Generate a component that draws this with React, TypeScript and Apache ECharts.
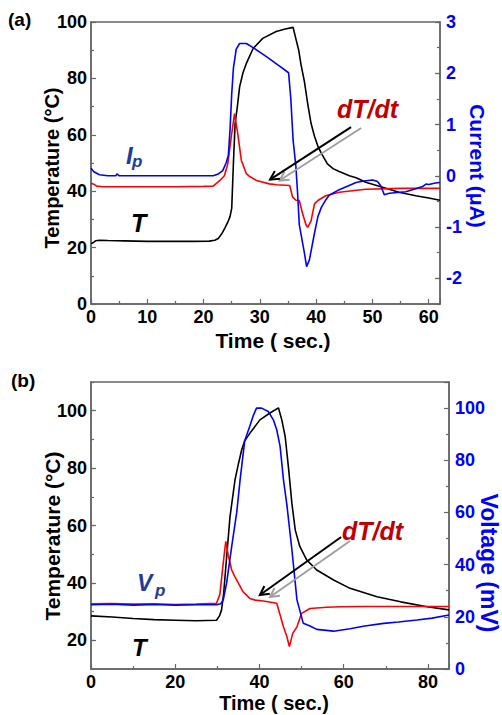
import { useEffect, useRef } from "react";
import * as echarts from "echarts";

const FONT = "'Liberation Sans', Arial, Helvetica, sans-serif";

// ---------- Panel (a) ----------
const aTempTime = [0, 0.4, 0.8, 1.5, 3, 6, 10, 14, 18, 21, 22, 22.6, 23.2, 23.8, 24.3, 24.7, 25.0, 25.3, 25.6, 26.0, 26.4, 27.0, 27.6, 28.8, 30.5, 32.9, 34.5, 35.9, 36.4, 36.9, 37.3, 37.9, 38.5, 39.1, 39.7, 40.3, 40.9, 42.0, 43.0, 44.1, 45.9, 47.1, 48.8, 51.8, 54.7, 57.7, 60.0, 62];
const aTempValues = [21.3, 21.8, 22.4, 22.6, 22.5, 22.4, 22.2, 22.2, 22.2, 22.3, 22.6, 23.2, 24.8, 27, 29, 31, 34, 50, 64, 70, 77, 82, 85.3, 90.6, 94.2, 96.6, 97.5, 98.1, 94, 90, 85, 79, 71, 64, 59.5, 56, 53.5, 49.7, 48, 47, 45.5, 44.8, 43.2, 41.4, 39.6, 38.4, 37.6, 36.8];

const aCurrentTime = [0, 0.5, 1.5, 3, 4.4, 4.6, 5, 8, 12, 16, 20, 21.7, 22.5, 23.4, 24.0, 24.4, 24.7, 25.0, 25.3, 25.8, 26.4, 27.6, 28.8, 31.1, 33.5, 35.1, 35.5, 35.9, 36.4, 36.7, 37.0, 37.9, 38.3, 38.8, 39.7, 40.3, 40.9, 41.7, 42.3, 44.1, 47.1, 48.5, 50.0, 50.9, 51.5, 52.1, 53.0, 55.9, 57.1, 58.9, 59.5, 60.0, 61.2, 62];
const aCurrentValues = [0.15, 0.08, 0.02, 0.0, 0.0, 0.04, 0.0, 0.0, 0.0, 0.0, 0.0, 0.0, 0.03, 0.1, 0.25, 0.4, 0.9, 1.6, 2.1, 2.47, 2.58, 2.58, 2.5, 2.33, 2.14, 2.01, 1.5, 0.7, 0.18, -0.34, -0.95, -1.5, -1.77, -1.64, -1.12, -0.8, -0.62, -0.47, -0.38, -0.27, -0.13, -0.1, -0.08, -0.11, -0.2, -0.37, -0.34, -0.31, -0.27, -0.21, -0.16, -0.17, -0.14, -0.13];

const aRateTime = [0, 0.5, 1, 2, 5, 10, 15, 20, 21.7, 22.9, 23.7, 24.3, 24.9, 25.5, 26.1, 26.7, 27.6, 28.2, 29.4, 31.7, 33.0, 35.3, 35.8, 36.4, 37.0, 37.6, 38.2, 38.5, 39.1, 39.7, 40.3, 41.7, 44.1, 48.8, 55, 62];
const aRateValues = [42.8, 42.5, 41.8, 41.6, 41.6, 41.6, 41.6, 41.7, 41.8, 43.8, 45.5, 49.7, 59, 67.5, 60, 51, 46.2, 45.2, 43.8, 42.6, 42.3, 42, 38, 36.8, 36.7, 32, 28, 27.2, 29.5, 35.5, 36.7, 38.4, 39.6, 40.7, 41, 41];

const aRightTicks = [-2, -1, 0, 1, 2, 3];
const aArrowBlack = [[46.2, 62.7], [31.8, 44.1]];
const aArrowGray = [[48.0, 62.4], [33.5, 43.8]];

// ---------- Panel (b) ----------
const bTempTime = [0, 5, 10, 15, 20, 25, 29.8, 30.5, 31.0, 31.5, 32.2, 33.0, 34.2, 35.0, 35.8, 36.5, 37.7, 40.1, 42.4, 44.5, 45.3, 46.1, 46.9, 47.7, 48.5, 49.6, 51.2, 53.6, 57.6, 61.5, 67.9, 73.5, 79.8, 85];
const bTempValues = [28.5, 28.1, 27.6, 27.2, 27.0, 26.8, 27.0, 28.5, 30.6, 36.4, 49, 63, 76, 81.5, 86.5, 89.5, 92.1, 96.8, 99.1, 101, 96.8, 91, 80, 67.7, 58.4, 52.6, 48, 44.5, 41, 38.1, 35.2, 33.4, 31.7, 30.6];

const bVoltTime = [0, 5, 10, 15, 20, 25, 29.8, 30.8, 31.4, 32.2, 33.4, 34.6, 35.4, 36.5, 37.7, 38.5, 39.3, 40.5, 42.1, 43.3, 44.1, 44.9, 45.7, 46.5, 47.7, 48.9, 50.4, 52, 53.6, 57.6, 61.5, 65, 69.5, 73, 77.4, 81, 85];
const bVoltValues = [24.6, 24.8, 24.5, 24.7, 24.5, 24.6, 24.6, 25, 26.5, 32.9, 46.9, 60, 72.5, 87.5, 93, 97, 100, 100, 98.7, 95.5, 91.7, 85.3, 72.5, 63, 45.7, 26.5, 17.5, 16.5, 15.2, 14.5, 15.4, 16.5, 17.5, 18, 18.8, 19.5, 20.7];

const bRateTime = [0, 5, 10, 15, 20, 25, 29.8, 30.6, 31.4, 32.0, 32.6, 33.4, 34.2, 35.0, 36.1, 37.7, 39.0, 40.9, 44.1, 44.9, 45.7, 46.5, 47.1, 47.9, 48.9, 50.0, 52.0, 56.0, 59.2, 65, 75, 85];
const bRateValues = [32.7, 32.8, 32.6, 32.7, 32.5, 32.6, 32.9, 36, 47, 54.5, 49.5, 44.5, 42, 39.9, 36.9, 34.6, 34, 33.7, 32.9, 28.8, 24.7, 21.3, 17.8, 22.4, 24.7, 29.4, 31.1, 31.5, 31.7, 31.8, 31.8, 31.8];

const bLeftTicks = [20, 40, 60, 80, 100];
const bArrowBlack = [[59.4, 56], [40.1, 35.8]];
const bArrowGray = [[61.5, 54.6], [42.5, 35.1]];

function zip(xs: number[], ys: number[]) {
  return xs.map((x, i) => [x, ys[i]]);
}

const AX = "#666";

function lineSeries(name: string, data: number[][], color: string, xIdx: number, yIdx: number) {
  return {
    name,
    type: "line",
    xAxisIndex: xIdx,
    yAxisIndex: yIdx,
    data,
    showSymbol: false,
    symbol: "none",
    lineStyle: { color, width: 1.6 },
    itemStyle: { color },
    z: 3,
  };
}

export default function App() {
  const ref = useRef<HTMLDivElement>(null);

  useEffect(() => {
    const chart = echarts.init(ref.current!, null, { renderer: "svg" });
    const axisLine = { show: true, onZero: false, lineStyle: { color: AX, width: 1.5 } };
    const tick = { show: true, inside: true, length: 5, lineStyle: { color: AX, width: 1.2 } };
    const minor = { show: true, splitNumber: 2, length: 3, lineStyle: { color: AX, width: 1.2 } };
    const lbl = { fontFamily: FONT, fontWeight: "bold", fontSize: 18, color: "#000" };
    const blueLbl = { ...lbl, color: "#0000ff" };

    const option: any = {
      animation: false,
      backgroundColor: "#fff",
      grid: [
        { left: 91, top: 22, width: 349, height: 282, show: true, borderColor: AX, borderWidth: 1.5, backgroundColor: "transparent" },
        { left: 91, top: 382, width: 358, height: 287, show: true, borderColor: AX, borderWidth: 1.5, backgroundColor: "transparent" },
      ],
      xAxis: [
        { type: "value", gridIndex: 0, min: 0, max: 62, interval: 10, axisLine, axisTick: tick, minorTick: minor, axisLabel: { ...lbl, margin: 4, showMaxLabel: false }, splitLine: { show: false } },
        { type: "value", gridIndex: 1, min: 0, max: 85, interval: 20, axisLine, axisTick: tick, minorTick: minor, axisLabel: { ...lbl, margin: 4, showMaxLabel: false }, splitLine: { show: false } },
      ],
      yAxis: [
        // 0: top left
        { type: "value", gridIndex: 0, position: "left", min: 0, max: 100, interval: 20, axisLine, axisTick: tick, minorTick: minor, axisLabel: { ...lbl, margin: 4 }, splitLine: { show: false } },
        // 1: top right main
        { type: "value", gridIndex: 0, position: "right", min: -2.5, max: 3, axisLine, axisTick: { ...tick, customValues: aRightTicks }, axisLabel: { ...blueLbl, margin: 6, customValues: aRightTicks }, splitLine: { show: false } },
        // 2: top right minor ticks
        { type: "value", gridIndex: 0, position: "right", min: -2.5, max: 3, interval: 0.5, axisLine: { show: false, onZero: false }, axisTick: { ...tick, length: 3 }, axisLabel: { show: false }, splitLine: { show: false } },
        // 3: bottom left main
        { type: "value", gridIndex: 1, position: "left", min: 10, max: 110, axisLine, axisTick: { ...tick, customValues: bLeftTicks }, axisLabel: { ...lbl, margin: 4, customValues: bLeftTicks }, splitLine: { show: false } },
        // 4: bottom left minor ticks
        { type: "value", gridIndex: 1, position: "left", min: 10, max: 110, interval: 10, axisLine: { show: false, onZero: false }, axisTick: { ...tick, length: 3 }, axisLabel: { show: false }, splitLine: { show: false } },
        // 5: bottom right
        { type: "value", gridIndex: 1, position: "right", min: 0, max: 110, interval: 20, axisLine, axisTick: tick, minorTick: minor, axisLabel: { ...blueLbl, margin: 6, showMaxLabel: false }, splitLine: { show: false } },
      ],
      series: [
        lineSeries("T (a)", zip(aTempTime, aTempValues), "#000000", 0, 0),
        lineSeries("dT/dt (a)", zip(aRateTime, aRateValues), "#ff0000", 0, 0),
        lineSeries("Ip", zip(aCurrentTime, aCurrentValues), "#0000ff", 0, 1),
        lineSeries("T (b)", zip(bTempTime, bTempValues), "#000000", 1, 3),
        lineSeries("dT/dt (b)", zip(bRateTime, bRateValues), "#ff0000", 1, 3),
        lineSeries("Vp", zip(bVoltTime, bVoltValues), "#0000ff", 1, 5),
      ],
    };
    chart.setOption(option);

    const arrow = (pts: number[][], finder: any, color: string) => {
      const p0 = chart.convertToPixel(finder, pts[0]) as number[];
      const p1 = chart.convertToPixel(finder, pts[1]) as number[];
      const dx = p0[0] - p1[0];
      const dy = p0[1] - p1[1];
      const len = Math.hypot(dx, dy);
      const ux = dx / len;
      const uy = dy / len;
      const a = (28 * Math.PI) / 180;
      const h = 10;
      const r1 = [p1[0] + h * (ux * Math.cos(a) - uy * Math.sin(a)), p1[1] + h * (ux * Math.sin(a) + uy * Math.cos(a))];
      const r2 = [p1[0] + h * (ux * Math.cos(-a) - uy * Math.sin(-a)), p1[1] + h * (ux * Math.sin(-a) + uy * Math.cos(-a))];
      return [
        { type: "line", shape: { x1: p0[0], y1: p0[1], x2: p1[0], y2: p1[1] }, style: { stroke: color, lineWidth: 2 }, z: 10 },
        { type: "polyline", shape: { points: [r1, p1, r2] }, style: { stroke: color, lineWidth: 2, fill: null }, z: 10 },
      ];
    };

    const txt = (text: string, x: number, y: number, size: number, color: string, opts: any = {}) => ({
      type: "text",
      x,
      y,
      rotation: opts.rotation || 0,
      z: 20,
      style: {
        text,
        fill: color,
        fontFamily: FONT,
        fontWeight: "bold",
        fontStyle: opts.italic ? "italic" : "normal",
        fontSize: size,
        align: opts.align || "left",
        verticalAlign: "middle",
      },
    });

    const fa = { xAxisIndex: 0, yAxisIndex: 0 };
    const fb = { xAxisIndex: 1, yAxisIndex: 3 };
    const graphic: any[] = [
      ...arrow(aArrowGray, fa, "#a0a0a0"),
      ...arrow(aArrowBlack, fa, "#000000"),
      ...arrow(bArrowGray, fb, "#a0a0a0"),
      ...arrow(bArrowBlack, fb, "#000000"),
      txt("(a)", 8, 19, 19, "#000"),
      txt("(b)", 11, 380, 19, "#000"),
      txt("Temperature (°C)", 52, 168, 20, "#000", { rotation: Math.PI / 2, align: "center" }),
      txt("Current (μA)", 477, 166, 21, "#0000ff", { rotation: -Math.PI / 2, align: "center" }),
      txt("Time ( sec.)", 273, 340, 21, "#000", { align: "center" }),
      txt("Temperature (°C)", 52, 536, 21, "#000", { rotation: Math.PI / 2, align: "center" }),
      txt("Voltage (mV)", 489, 563, 23, "#0000ff", { rotation: -Math.PI / 2, align: "center" }),
      txt("Time ( sec.)", 274, 703, 20, "#000", { align: "center" }),
      txt("I", 126, 155, 24, "#1f3c99", { italic: true }),
      txt("p", 132, 161, 17, "#1f3c99", { italic: true }),
      txt("T", 131, 223, 25, "#000", { italic: true }),
      txt("dT/dt", 337, 109, 25, "#c00000", { italic: true }),
      txt("V", 137, 583, 23, "#1f3c99", { italic: true }),
      txt("p", 155, 590, 17, "#1f3c99", { italic: true }),
      txt("T", 132, 647, 24, "#000", { italic: true }),
      txt("dT/dt", 342, 531, 25, "#c00000", { italic: true }),
    ];
    chart.setOption({ graphic });

    return () => chart.dispose();
  }, []);

  return (
    <div
      ref={ref}
      style={{ position: "absolute", left: 0, top: 0, width: 502, height: 715, background: "#fff" }}
    />
  );
}
